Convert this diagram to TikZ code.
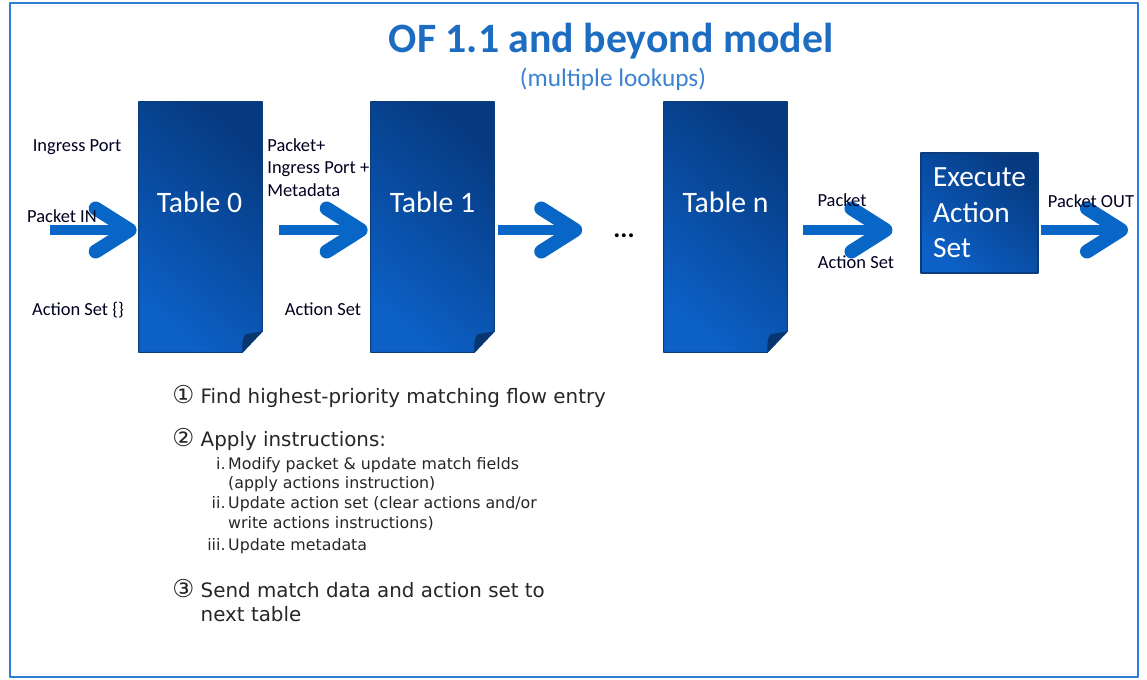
\documentclass[tikz,border=0pt]{standalone}
\usepackage{fontspec}
\setmainfont{Carlito}
\newfontfamily\stepfont{DejaVu Sans}
\usetikzlibrary{arrows.meta,positioning,calc}
\usepackage{xcolor}
\definecolor{frameblue}{HTML}{2F7BD8}
\definecolor{titleblue}{HTML}{1C6DC1}
\definecolor{subblue}{HTML}{3C82D2}
\definecolor{arrowblue}{HTML}{0866C6}
\definecolor{tabdark}{HTML}{063A80}
\definecolor{tablight}{HTML}{0C60C6}
\definecolor{tabedge}{HTML}{0A3C7E}
\definecolor{folddark}{HTML}{07366F}
\colorlet{lbltext}{black!88!blue}
\colorlet{steptext}{black!85}
\newcommand{\stepnum}[1]{{\fontsize{14}{14}\selectfont #1}}

\begin{document}
\begin{tikzpicture}[x=0.02cm, y=-0.02cm, line join=round,
    flow/.style={draw=arrowblue, line width=0.2cm,
        -{Straight Barb[length=0.68cm, width=0.86cm, line width=0.28cm, round]}},
    tablebox/.style={minimum width=2.46cm, minimum height=5cm, inner sep=0pt},
    tableshade/.style={top color=tabdark, bottom color=tablight, shading angle=-40,
        draw=tabedge, line width=0.6pt},
    execbox/.style={top color=tabdark, bottom color=tablight, shading angle=-40,
        draw=tabedge, line width=0.6pt, minimum width=2.34cm, minimum height=2.4cm,
        inner sep=0pt, align=left, text=white, font=\fontsize{16.7}{20.2}\selectfont},
    tabletext/.style={text=white, font=\fontsize{16.9}{20}\selectfont, inner sep=0pt},
    lbl/.style={text=lbltext, font=\fontsize{10.5}{12.6}\selectfont, inner sep=0pt},
    steps/.style={text=steptext, font=\stepfont\fontsize{11.3}{14.2}\selectfont, inner sep=0pt},
    substeps/.style={text=steptext, font=\stepfont\fontsize{9}{11}\selectfont, inner sep=0pt}]
\useasboundingbox (0,0) rectangle (1147,680);
\draw[frameblue, line width=1.2pt] (10,3) rectangle (1138,677);

% title
\node[anchor=base, text=titleblue, font=\fontsize{23.8}{28}\selectfont\bfseries] (title) at (611,52) {OF 1.1 and beyond model};
\node[anchor=base, text=subblue, font=\fontsize{14.4}{17}\selectfont] (subtitle) at (613,86) {(multiple lookups)};

% flow tables
\node[tablebox] (t0) at (200.5,227) {};
\node[tablebox] (t1) at (432.5,227) {};
\node[tablebox] (tn) at (725.5,227) {};
\foreach \t in {t0,t1,tn}{
  \shade[tableshade] (\t.north west) -- (\t.north east) -- ($(\t.south east)+(0,-21)$)
     -- ($(\t.south east)+(-20,0)$) -- (\t.south west) -- cycle;
  \fill[folddark] ($(\t.south east)+(0,-21)$) -- ($(\t.south east)+(-20,0)$)
     .. controls ($(\t.south east)+(-20,-12)$) .. ($(\t.south east)+(-17,-18)$) -- cycle;
}
\node[tabletext, anchor=base] (t0lbl) at ($(t0.center)+(-1,-15)$) {Table 0};
\node[tabletext, anchor=base] (t1lbl) at ($(t1.center)+(0,-15)$) {Table 1};
\node[tabletext, anchor=base] (tnlbl) at ($(tn.center)+(0,-15)$) {Table n};
\node[execbox] (exec) at (979.5,213) {Execute\\Action\\Set};
\node[anchor=base, font=\fontsize{15}{18}\selectfont\bfseries] (dots) at (624,237) {...};

% arrows
\coordinate (pin) at (50,230);
\coordinate (pout) at (1128,230);
\draw[flow, shorten >=0.04cm] (pin) -- (pin -| t0.west);
\draw[flow, shorten <=0.34cm, shorten >=0.06cm] (t0.east |- pin) -- (t1.west |- pin);
\draw[flow, shorten <=0.08cm, shorten >=0.5cm] (t1.east |- pin) -- (dots.west |- pin);
\draw[flow, shorten <=0.32cm, shorten >=0.56cm] (tn.east |- pin) -- (exec.west |- pin);
\draw[flow, shorten <=0.04cm] (exec.east |- pout) -- (pout);

% labels
\node[lbl, anchor=base] (inport) at (77,151) {Ingress Port};
\node[lbl, anchor=base] (pktin) at (62,222) {Packet IN};
\node[lbl, anchor=base] (aset0) at (78,315) {Action Set \{\}};
\node[lbl, anchor=base west, align=left] (meta) at (267,196) {Packet+\\Ingress Port +\\Metadata};
\node[lbl, anchor=base] (aset1) at (323,315) {Action Set};
\node[lbl, anchor=base] (pkt) at (842,206) {Packet};
\node[lbl, anchor=base] (asetn) at (856,268) {Action Set};
\node[lbl, anchor=base] (pktout) at (1091,207) {Packet OUT};

% steps
\node[steps, anchor=base west] (step1) at (172,403) {\stepnum{①} Find highest-priority matching flow entry};
\node[steps, anchor=base west] (step2) at (172,446) {\stepnum{②} Apply instructions:};
\node[substeps, anchor=base west] (step2sub) at (207,469) {%
  \begin{tabular}[t]{@{}r@{\,}l@{}}
  i. & Modify packet \& update match fields\\
     & (apply actions instruction)\\[0.6pt]
  ii. & Update action set (clear actions and/or\\
     & write actions instructions)\\[1.6pt]
  iii. & Update metadata
  \end{tabular}};
\node[steps, anchor=base west] (step3) at (172,597) {%
  \begin{tabular}[t]{@{}l@{ }l@{}}
  \stepnum{③} & Send match data and action set to\\
     & next table
  \end{tabular}};
\end{tikzpicture}
\end{document}
